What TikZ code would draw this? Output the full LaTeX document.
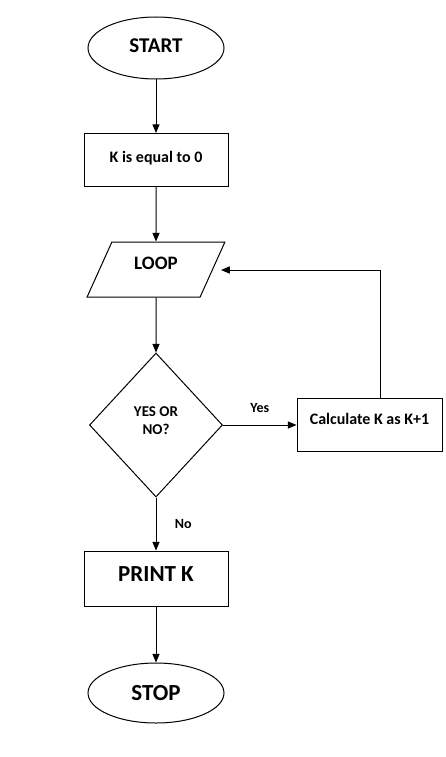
\documentclass[tikz,border=0pt]{standalone}
\usepackage{fontspec}
\setmainfont{Carlito}
\usetikzlibrary{shapes,arrows}

\begin{document}
\begin{tikzpicture}[x=1pt,y=-1pt,line width=1pt,>=triangle 45,
  term/.style={draw,ellipse,minimum width=136pt,minimum height=62pt,inner sep=0pt},
  proc/.style={draw,rectangle,minimum width=144pt,minimum height=53pt,inner sep=0pt},
  io/.style={draw,trapezium,trapezium left angle=63,trapezium right angle=117,trapezium stretches=true,minimum width=138pt,minimum height=55pt,inner sep=0pt},
  decide/.style={draw,diamond,minimum width=133pt,minimum height=144pt,inner sep=0pt,align=center},
  small/.style={font=\bfseries\fontsize{14}{16}\selectfont}]
\useasboundingbox (0,0) rectangle (446,757);
\node[term,font=\bfseries\fontsize{21}{23}\selectfont,text depth=5pt] (start) at (156,48) {START};
\node[proc,font=\bfseries\fontsize{16}{18}\selectfont,text height=10pt,text depth=6pt] (init) at (156,160) {K is equal to 0};
\node[io,font=\bfseries\fontsize{19}{21}\selectfont,text height=12pt,text depth=12pt] (loop) at (156,269.5) {LOOP};
\node[decide,font=\bfseries\fontsize{15}{18}\selectfont,text depth=9pt] (dec) at (156,425) {YES OR\\NO?};
\node[proc,minimum width=145pt,font=\bfseries\fontsize{16}{18}\selectfont,text height=10pt,text depth=12pt] (calc) at (369.5,425) {Calculate K as K+1};
\node[proc,minimum height=55pt,font=\bfseries\fontsize{23}{25}\selectfont,text height=15pt,text depth=10pt] (print) at (156,578.5) {PRINT K};
\node[term,minimum height=60pt,font=\bfseries\fontsize{23}{25}\selectfont] (stop) at (156,693) {STOP};
\coordinate (back) at (380,270);
% connectors
\draw[->] (start) -- (init);
\draw[->] (init) -- (loop);
\draw[->] (loop) -- (dec);
\draw[->] (dec) -- node[above=9pt,small] {Yes} (calc);
\draw[->] (calc.north -| back) -- (back) -- ([xshift=8pt]loop.east |- back);
\draw[->] (dec) -- node[right=15pt,small] {No} (print);
\draw[->] (print) -- (stop);
\end{tikzpicture}
\end{document}
